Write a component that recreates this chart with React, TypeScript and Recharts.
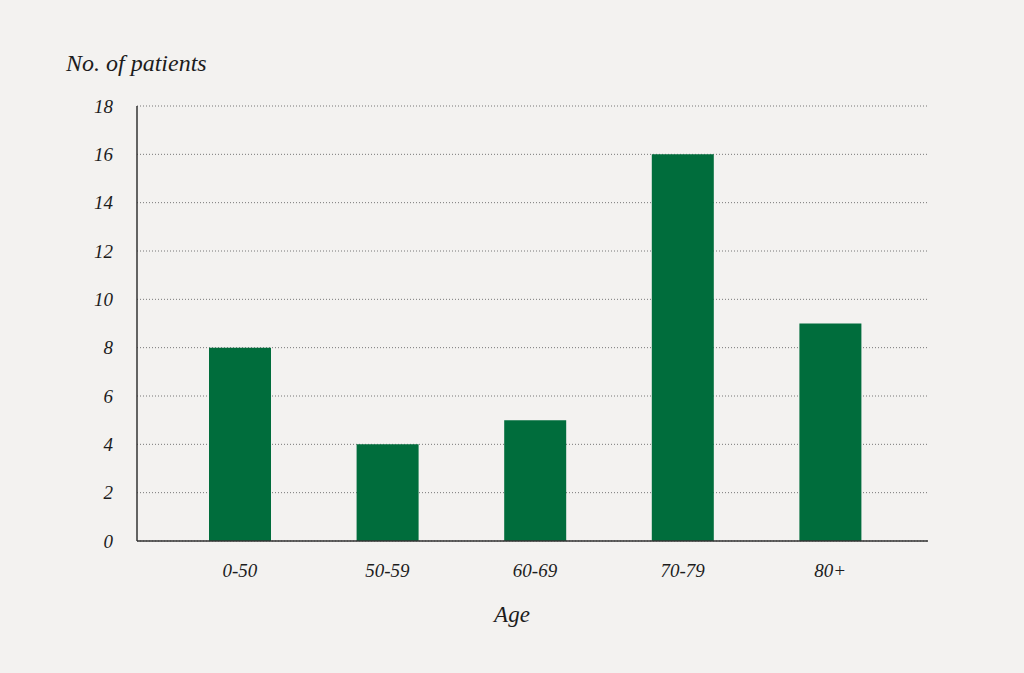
import { BarChart, Bar, XAxis, YAxis, CartesianGrid } from 'recharts';

const AGE_GROUPS = ['0-50', '50-59', '60-69', '70-79', '80+'];
const PATIENTS = [8, 4, 5, 16, 9];
const Y_TICKS = [0, 2, 4, 6, 8, 10, 12, 14, 16, 18];

const data = AGE_GROUPS.map((age, i) => ({ age, patients: PATIENTS[i] }));

const FONT = '"Liberation Serif", "DejaVu Serif", serif';
const tickStyle = { fontFamily: FONT, fontStyle: 'italic', fontSize: 19, fill: '#1c1c1c' };

export default function App() {
  return (
    <div
      style={{
        position: 'fixed',
        top: 0,
        left: 0,
        width: 1024,
        height: 673,
        background: '#f3f2f0',
        fontFamily: FONT,
      }}
    >
      <div
        style={{
          position: 'absolute',
          left: 66,
          top: 50,
          fontSize: 24,
          fontStyle: 'italic',
          color: '#1c1c1c',
          whiteSpace: 'nowrap',
        }}
      >
        No. of patients
      </div>
      <div
        style={{
          position: 'absolute',
          left: 0,
          width: 1024,
          top: 602,
          textAlign: 'center',
          fontSize: 23,
          fontStyle: 'italic',
          color: '#1c1c1c',
        }}
      >
        Age
      </div>
      <BarChart
        width={1024}
        height={673}
        data={data}
        margin={{ top: 106, right: 96, bottom: 52, left: 77 }}
      >
        <CartesianGrid
          vertical={false}
          stroke="#777"
          strokeDasharray="1 2"
        />
        <XAxis
          dataKey="age"
          height={80}
          padding={{ left: 29, right: 24 }}
          axisLine={{ stroke: '#333', strokeWidth: 1.5 }}
          tickLine={false}
          tickSize={0}
          tickMargin={23}
          tick={tickStyle}
        />
        <YAxis
          width={60}
          domain={[0, 18]}
          ticks={Y_TICKS}
          interval={0}
          axisLine={{ stroke: '#333', strokeWidth: 1.5 }}
          tickLine={false}
          tickSize={0}
          tickMargin={24}
          tick={tickStyle}
        />
        <Bar dataKey="patients" fill="#006d3c" barSize={62} isAnimationActive={false} />
      </BarChart>
    </div>
  );
}
